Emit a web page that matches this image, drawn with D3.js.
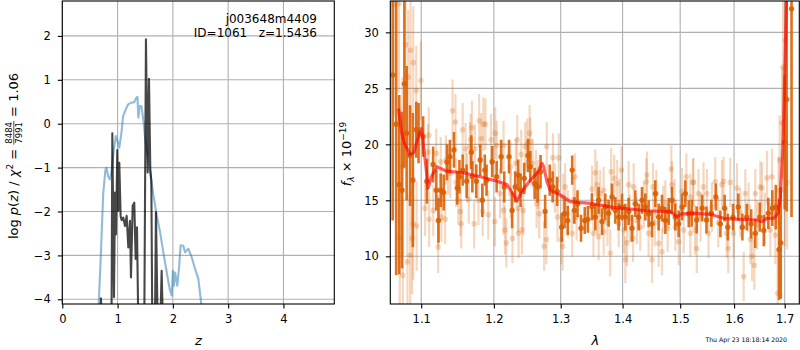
<!DOCTYPE html>
<html>
<head>
<meta charset="utf-8">
<script src="https://cdn.jsdelivr.net/npm/d3@7"></script>
<style>
  body { margin: 0; background: #fff; }
  text { font-family: "DejaVu Sans", sans-serif; }
</style>
</head>
<body>
<div id="canvas"></div>
<script>
"use strict";

/* Drawing size */
let svgWidth = 800;
let svgHeight = 350;

/* ---- Left panel data: log p(z) ---- */
// blue curve (z, log p)
let blueZ = [0.64, 0.66, 0.70, 0.74, 0.78, 0.80, 0.83, 0.86, 0.89, 0.93, 0.97, 1.00, 1.03, 1.07, 1.10,
  1.15, 1.19, 1.25, 1.30, 1.34, 1.36, 1.375, 1.40, 1.43, 1.47, 1.50, 1.55, 1.60, 1.65, 1.71, 1.77,
  1.83, 1.89, 1.94, 1.98, 2.00, 2.02, 2.04, 2.08, 2.11, 2.14, 2.19, 2.22, 2.28, 2.34, 2.40, 2.46, 2.51, 2.53];
let blueLogp = [-4.6, -4.07, -2.9, -1.6, -1.05, -1.0, -1.2, -1.27, -1.1, -0.6, -0.28, -0.4, -0.55, -0.2, 0.17,
  0.33, 0.44, 0.48, 0.49, 0.59, 0.61, 0.14, 0.4, 0.4, 0.05, -0.36, -0.75, -1.2, -1.65, -2.1, -2.48,
  -2.95, -3.39, -3.75, -3.92, -3.35, -3.69, -3.39, -3.69, -3.3, -2.77, -2.78, -2.93, -2.85, -3.04, -3.3, -3.53, -4.06, -4.5];

// dark curve (z, log p)
let darkZ = [0.68, 0.70, 0.71, 0.89, 0.905, 0.935, 0.953, 0.971, 0.995, 1.013, 1.031, 1.055, 1.074, 1.103,
  1.134, 1.164, 1.194, 1.224, 1.242, 1.273, 1.302, 1.327, 1.351, 1.375, 1.483, 1.513, 1.544, 1.568,
  1.592, 1.61, 1.628, 1.676, 1.694, 1.725, 1.772, 1.797, 1.821];
let darkLogp = [-4.6, -3.98, -4.6, -4.6, -0.22, -3.95, -1.57, -2.52, -0.6, -1.99, -0.89, -2.1, -2.2, -2.14,
  -2.33, -2.1, -2.82, -2.21, -3.5, -1.87, -1.8, -3.08, -2.36, -4.6, -4.6, 1.92, -1.11, 1.02,
  -1.04, -1.3, -4.6, -4.6, -2.02, -4.6, -4.6, -3.35, -4.6];

let zTicks = [0, 1, 2, 3, 4];
let logpTicks = [-4, -3, -2, -1, 0, 1, 2];

/* ---- Right panel data: spectrum ---- */
// [wavelength (micron), flux, error]
let darkPoints = [
  [1.063, 26.2, 13], [1.0675, 21.8, 13.5], [1.0714, 16.4, 8], [1.075, 15.9, 7], [1.078, 25.4, 7.5],
  [1.081, 21.0, 6], [1.0854, 19.0, 4.5], [1.089, 16.8, 6], [1.0935, 21.3, 2.5], [1.0965, 21.0, 2.7],
  [1.1025, 20.7, 1.8], [1.1075, 16.7, 2.0], [1.1158, 18.2, 1.6], [1.120, 15.9, 1.8], [1.123, 13.2, 2.0],
  [1.126, 15.9, 1.5], [1.130, 15.7, 1.6], [1.1345, 18.4, 1.6], [1.1385, 18.9, 1.5], [1.144, 19.5, 1.6],
  [1.1485, 16.1, 1.5], [1.1515, 17.1, 1.5], [1.156, 17.7, 1.4], [1.1615, 16.7, 1.5], [1.168, 19.3, 1.5],
  [1.1695, 17.1, 1.4], [1.175, 16.7, 1.5], [1.1805, 18.6, 1.4], [1.1835, 15.0, 1.5], [1.187, 17.7, 1.4],
  [1.1895, 16.8, 1.4], [1.1975, 18.45, 1.4], [1.204, 17.1, 1.4], [1.2105, 18.9, 1.5], [1.215, 16.2, 1.4],
  [1.222, 18.9, 1.5], [1.2265, 14.1, 1.6], [1.231, 16.2, 1.4], [1.2355, 17.25, 1.4], [1.239, 15.9, 1.5],
  [1.2445, 16.96, 1.4], [1.250, 19.0, 1.5], [1.2535, 18.0, 1.4], [1.260, 16.5, 1.4], [1.2645, 16.2, 1.4],
  [1.269, 17.55, 1.5], [1.276, 14.0, 1.5], [1.283, 16.8, 1.4], [1.2875, 16.2, 1.4], [1.2945, 15.8, 1.3],
  [1.3015, 12.6, 1.3], [1.306, 13.8, 1.3], [1.311, 13.2, 1.3], [1.318, 17.7, 1.3], [1.3215, 14.1, 1.2],
  [1.3265, 14.7, 1.2], [1.332, 12.5, 1.2], [1.338, 13.2, 1.2], [1.343, 13.3, 1.2],
  [1.3496, 14.43, 1.2], [1.3550, 13.5, 1.2], [1.3604, 15.0, 1.2], [1.3659, 13.1, 1.2], [1.3713, 14.4, 1.2],
  [1.3768, 13.84, 1.2], [1.3823, 15.3, 1.2], [1.3879, 14.1, 1.2], [1.3934, 13.5, 1.2], [1.3990, 14.4, 1.2],
  [1.4046, 13.5, 1.2], [1.4102, 14.0, 1.2], [1.4159, 12.5, 1.2], [1.4215, 14.7, 1.2], [1.4272, 13.5, 1.2],
  [1.4329, 15.0, 1.2], [1.4387, 14.4, 1.2], [1.4444, 13.8, 1.2], [1.4502, 12.9, 1.2], [1.4560, 15.6, 1.2],
  [1.4618, 13.5, 1.2], [1.4677, 14.3, 1.2], [1.4736, 13.2, 1.2], [1.4795, 14.0, 1.2], [1.4854, 15.0, 1.2],
  [1.4913, 13.5, 1.2], [1.4973, 12.9, 1.2], [1.5033, 14.4, 1.2], [1.5093, 15.6, 1.2], [1.5154, 13.8, 1.2],
  [1.521, 13.84, 1.2], [1.530, 13.24, 1.2], [1.540, 14.3, 1.2], [1.548, 13.24, 1.2], [1.557, 13.84, 1.2],
  [1.5655, 15.3, 1.2], [1.574, 12.9, 1.2], [1.582, 14.3, 1.2], [1.588, 12.6, 1.2], [1.598, 13.5, 1.2],
  [1.608, 14.4, 1.2], [1.616, 12.6, 1.2], [1.6245, 13.5, 1.2], [1.633, 12.9, 1.3], [1.641, 12.05, 1.3],
  [1.650, 13.5, 1.3], [1.658, 12.3, 1.4], [1.667, 13.84, 1.4], [1.675, 14.3, 1.6], [1.682, 14.4, 2.0],
  [1.6885, 10.6, 4.5], [1.692, 11.2, 5], [1.700, 20.2, 6], [1.704, 24.0, 10], [1.714, 32.1, 18.6]
];

// faded points from the other exposures
let lightPoints = [
  [1.065, 32.5, 10], [1.071, 32.6, 8], [1.0795, 28.9, 7], [1.086, 28.4, 6], [1.0895, 27.3, 5],
  [1.083, 26.0, 6], [1.0995, 25.7, 3.5], [1.0935, 24.8, 4], [1.0755, 18.0, 8], [1.0895, 12.9, 5],
  [1.094, 12.7, 4], [1.088, 11.6, 5], [1.082, 9.5, 6], [1.076, 8.3, 7], [1.0855, 10.1, 6], [1.072, 11.6, 8],
  [1.110, 20.8, 2.5], [1.109, 19.3, 2.5], [1.105, 14.3, 2.5], [1.1105, 13.3, 2.5], [1.116, 14.1, 2.3],
  [1.1225, 13.2, 2.3], [1.1225, 10.8, 2.3], [1.127, 13.5, 2.2], [1.132, 13.3, 2.2], [1.120, 19.2, 2.2],
  [1.126, 18.45, 2.2], [1.133, 18.6, 2.2], [1.142, 23.0, 2.8], [1.146, 22.0, 2.5], [1.136, 17.7, 2.2],
  [1.139, 17.4, 2.2], [1.147, 16.6, 2.2], [1.150, 15.0, 2.2], [1.153, 14.0, 2.2], [1.154, 12.9, 2.2],
  [1.156, 21.3, 2.4], [1.160, 19.6, 2.3], [1.162, 17.0, 2.2], [1.1645, 15.1, 2.2], [1.167, 20.4, 2.3],
  [1.169, 21.5, 2.4], [1.172, 12.9, 2.2], [1.173, 19.6, 2.2], [1.179, 22.1, 2.4], [1.182, 20.5, 2.3],
  [1.185, 21.8, 2.4], [1.184, 14.0, 2.2], [1.192, 13.7, 2.2], [1.178, 15.0, 2.2], [1.166, 19.8, 2.2],
  [1.188, 21.8, 2.3], [1.196, 20.4, 2.3], [1.202, 21.0, 2.3], [1.204, 19.9, 2.2], [1.2015, 13.1, 2.2],
  [1.209, 15.6, 2.2], [1.214, 19.9, 2.2], [1.214, 14.1, 2.2], [1.216, 12.35, 2.2], [1.218, 11.2, 2.2],
  [1.224, 18.0, 2.2], [1.2245, 15.6, 2.2], [1.227, 11.6, 2.2], [1.232, 18.3, 2.2], [1.234, 20.4, 2.2],
  [1.235, 14.3, 2.2], [1.236, 12.05, 2.2], [1.240, 19.1, 2.2], [1.241, 12.35, 2.2], [1.243, 14.1, 2.2],
  [1.246, 19.8, 2.2], [1.249, 20.1, 2.2], [1.2525, 21.0, 2.5], [1.2535, 20.2, 2.2], [1.257, 18.3, 2.2],
  [1.262, 17.3, 2.2], [1.265, 16.4, 2.2], [1.263, 14.7, 2.2], [1.267, 13.8, 2.2], [1.2745, 10.9, 2.2],
  [1.278, 11.5, 2.2], [1.2785, 19.8, 2.2], [1.288, 18.8, 2.2], [1.291, 16.1, 2.2], [1.297, 18.8, 2.2],
  [1.295, 13.5, 2.2], [1.301, 11.5, 2.2], [1.303, 10.9, 2.2], [1.304, 15.3, 2.1], [1.311, 13.8, 2.1],
  [1.318, 12.05, 2.1], [1.3225, 17.1, 2.1], [1.325, 13.5, 2.1], [1.307, 16.2, 2.1], [1.320, 15.0, 2.1],
  [1.355, 17.46, 2.1], [1.3496, 16.0, 2.1], [1.358, 16.4, 2.1], [1.363, 15.6, 2.1], [1.3686, 15.9, 2.1],
  [1.352, 12.05, 2.1], [1.3604, 11.75, 2.1], [1.3686, 12.2, 2.1], [1.3795, 10.3, 2.1], [1.381, 17.55, 2.1],
  [1.386, 16.96, 2.1], [1.391, 16.5, 2.1], [1.3934, 12.9, 2.1], [1.398, 17.7, 2.1], [1.402, 12.35, 2.1],
  [1.4046, 9.7, 2.1], [1.4074, 11.2, 2.1], [1.4102, 16.4, 2.1], [1.4187, 16.2, 2.1], [1.4176, 11.6, 2.1],
  [1.4244, 13.2, 2.1], [1.430, 12.6, 2.1], [1.4415, 17.25, 2.1], [1.4404, 16.66, 2.1], [1.4444, 12.05, 2.1],
  [1.4502, 9.7, 2.1], [1.452, 16.2, 2.1], [1.4578, 15.6, 2.1], [1.4618, 11.15, 2.1], [1.4677, 10.4, 2.1],
  [1.4736, 14.7, 2.1], [1.4777, 12.5, 2.1], [1.4842, 17.8, 2.1], [1.4854, 16.4, 2.1], [1.4913, 12.6, 2.1],
  [1.4973, 11.3, 2.1], [1.5033, 15.8, 2.1], [1.5111, 17.1, 2.1], [1.5184, 15.3, 2.1], [1.5232, 16.6, 2.1],
  [1.5184, 12.05, 2.1], [1.5063, 12.35, 2.1], [1.358, 14.0, 2.1], [1.375, 13.0, 2.1], [1.395, 14.8, 2.1],
  [1.412, 13.4, 2.1], [1.436, 14.6, 2.1], [1.455, 13.0, 2.1], [1.470, 14.2, 2.1], [1.490, 14.8, 2.1],
  [1.524, 16.6, 2.2], [1.5333, 15.6, 2.2], [1.5425, 16.2, 2.2], [1.527, 12.35, 2.2], [1.5302, 10.7, 2.2],
  [1.5488, 15.6, 2.2], [1.5518, 12.05, 2.2], [1.5643, 16.66, 2.2], [1.5769, 16.4, 2.2], [1.580, 16.7, 2.2],
  [1.5927, 16.6, 2.2], [1.586, 12.05, 2.2], [1.589, 10.7, 2.2], [1.599, 12.05, 2.2], [1.6057, 16.1, 2.2],
  [1.6185, 8.2, 2.2], [1.6217, 15.6, 2.2], [1.6316, 11.5, 2.2], [1.635, 10.0, 2.2], [1.6393, 9.2, 2.2],
  [1.6412, 15.6, 2.2], [1.6511, 16.2, 2.3], [1.6545, 16.1, 2.3], [1.6644, 17.0, 2.4], [1.6744, 17.1, 2.5],
  [1.671, 12.35, 2.4], [1.6811, 11.9, 2.6], [1.6857, 6.7, 4], [1.6877, 15.9, 3], [1.6946, 21.9, 5],
  [1.6966, 26.9, 6], [1.7013, 29.3, 7], [1.6898, 18.6, 4], [1.700, 15.9, 5], [1.7048, 16.6, 6],
  [1.537, 13.5, 2.2], [1.558, 14.4, 2.2], [1.570, 13.0, 2.2], [1.612, 13.9, 2.2], [1.628, 14.4, 2.2],
  [1.645, 12.8, 2.2], [1.660, 13.4, 2.3]
];

// best-fit model
let modelWave = [1.0706, 1.0747, 1.078, 1.0854, 1.0901, 1.095, 1.1, 1.1022, 1.1072, 1.109, 1.1135, 1.1207,
  1.1342, 1.157, 1.1806, 1.2045, 1.219, 1.2277, 1.2336, 1.241, 1.2535, 1.2636, 1.2712, 1.2737, 1.2788,
  1.2838, 1.2994, 1.3151, 1.3469, 1.3846, 1.4412, 1.4825, 1.4945, 1.503, 1.5303, 1.555, 1.58, 1.612,
  1.644, 1.654, 1.664, 1.678, 1.6865, 1.691, 1.696, 1.699, 1.702, 1.705];
let modelFlux = [23.2, 21.0, 20.1, 19.1, 19.25, 20.4, 21.4, 20.4, 17.4, 16.07, 17.1, 18.0,
  17.6, 17.46, 17.1, 16.7, 16.4, 15.6, 14.94, 15.77, 16.8, 17.4, 18.3, 18.0, 16.66,
  15.9, 15.47, 14.88, 14.73, 14.37, 14.07, 13.98, 13.54, 13.78, 13.84, 13.75, 13.39, 13.3,
  13.24, 13.09, 13.39, 13.4, 13.84, 15.3, 19.5, 24.0, 29.9, 36];

let waveTicks = [1.1, 1.2, 1.3, 1.4, 1.5, 1.6, 1.7];
let fluxTicks = [10, 15, 20, 25, 30];

/* Colours */
let orange = "#d95f02";
let gridColor = "#b0b0b0";

function fmtMinus(d) {
  return d < 0 ? "\u2212" + Math.abs(d) : String(d);
}

/* Canvas */
let svg = d3.select("#canvas")
  .append("svg")
  .attr("width", svgWidth)
  .attr("height", svgHeight);

svg.append("rect")
  .attr("width", svgWidth)
  .attr("height", svgHeight)
  .attr("fill", "white");

let defs = svg.append("defs");

/* Panel boxes */
let plotTop = 1;
let plotBottom = 304;
let leftPanel = { x0: 62.3, x1: 334.3 };
let rightPanel = { x0: 390.3, x1: 799.3 };

defs.append("clipPath").attr("id", "clipL")
  .append("rect")
  .attr("x", leftPanel.x0).attr("y", plotTop)
  .attr("width", leftPanel.x1 - leftPanel.x0).attr("height", plotBottom - plotTop);
defs.append("clipPath").attr("id", "clipR")
  .append("rect")
  .attr("x", rightPanel.x0).attr("y", plotTop)
  .attr("width", rightPanel.x1 - rightPanel.x0).attr("height", plotBottom - plotTop);

/* Scales */
let xL = d3.scaleLinear().domain([0, 4.92]).range([leftPanel.x0, leftPanel.x1]);
let yL = d3.scaleLinear().domain([-4.107, 2.795]).range([plotBottom, plotTop]);
let xR = d3.scaleLog().domain([1.06, 1.73]).range([rightPanel.x0, rightPanel.x1]);
let yR = d3.scaleLinear().domain([5.74, 32.8]).range([plotBottom, plotTop]);

let tickFont = "11.5px";

/* Grid helper */
function drawGrid(xScale, yScale, xTicks, yTicks, x0, x1) {
  let g = svg.append("g");
  g.selectAll(".vg").data(xTicks).enter().append("line")
    .attr("x1", d => xScale(d)).attr("x2", d => xScale(d))
    .attr("y1", plotTop).attr("y2", plotBottom)
    .attr("stroke", gridColor).attr("stroke-width", 1.1);
  g.selectAll(".hg").data(yTicks).enter().append("line")
    .attr("x1", x0).attr("x2", x1)
    .attr("y1", d => yScale(d)).attr("y2", d => yScale(d))
    .attr("stroke", gridColor).attr("stroke-width", 1.1);
}

/* Axis helper */
function drawAxes(xScale, yScale, xTicks, yTicks, x0, x1, xFmt, yFmt) {
  let ax = svg.append("g")
    .attr("transform", "translate(0," + plotBottom + ")")
    .call(d3.axisBottom(xScale).tickValues(xTicks).tickFormat(xFmt).tickSize(4.5).tickPadding(6));
  let ay = svg.append("g")
    .attr("transform", "translate(" + x0 + ",0)")
    .call(d3.axisLeft(yScale).tickValues(yTicks).tickFormat(yFmt).tickSize(4.5).tickPadding(7));
  [ax, ay].forEach(function (a) {
    a.select(".domain").remove();
    a.selectAll("line").attr("stroke", "black").attr("stroke-width", 1.1);
    a.selectAll("text")
      .attr("fill", "black")
      .style("font-family", "DejaVu Sans")
      .style("font-size", tickFont);
  });
  svg.append("rect")
    .attr("x", x0).attr("y", plotTop)
    .attr("width", x1 - x0).attr("height", plotBottom - plotTop)
    .attr("fill", "none").attr("stroke", "black").attr("stroke-width", 1.1);
}

/* ================= Left panel ================= */
drawGrid(xL, yL, zTicks, logpTicks, leftPanel.x0, leftPanel.x1);

let lineL = d3.line().x(d => xL(d[0])).y(d => yL(d[1]));
let gL = svg.append("g").attr("clip-path", "url(#clipL)");

gL.append("path")
  .datum(d3.zip(blueZ, blueLogp))
  .attr("d", lineL)
  .attr("fill", "none")
  .attr("stroke", "#1f77b4")
  .attr("stroke-opacity", 0.5)
  .attr("stroke-width", 2.1)
  .attr("stroke-linejoin", "round");

gL.append("path")
  .datum(d3.zip(darkZ, darkLogp))
  .attr("d", lineL)
  .attr("fill", "none")
  .attr("stroke", "black")
  .attr("stroke-opacity", 0.72)
  .attr("stroke-width", 2.1)
  .attr("stroke-linejoin", "round");

drawAxes(xL, yL, zTicks, logpTicks, leftPanel.x0, leftPanel.x1, d => String(d), fmtMinus);

svg.append("text")
  .attr("x", 317).attr("y", 23)
  .attr("text-anchor", "end")
  .style("font-size", "12px")
  .text("j003648m4409");
svg.append("text")
  .attr("x", 317).attr("y", 37)
  .attr("text-anchor", "end")
  .style("font-size", "12px")
  .style("white-space", "pre")
  .text("ID=1061   z=1.5436");

/* x label */
svg.append("text")
  .attr("x", xL(2.46)).attr("y", 345)
  .attr("text-anchor", "middle")
  .style("font-size", "13px")
  .style("font-style", "italic")
  .text("z");

/* y label with fraction */
let labelSize = 13;
let ylab = svg.append("g");
let t1 = ylab.append("text").style("font-size", labelSize + "px").attr("x", 0).attr("y", 0);
t1.append("tspan").text("log ");
t1.append("tspan").style("font-style", "italic").text("p");
t1.append("tspan").text("(");
t1.append("tspan").style("font-style", "italic").text("z");
t1.append("tspan").text(") / ");
t1.append("tspan").style("font-style", "italic").text("\u03c7");
t1.append("tspan").attr("dy", -5).style("font-size", "9px").text("2");
t1.append("tspan").attr("dy", 5).style("white-space", "pre").text(" = ");
let w1 = t1.node().getComputedTextLength();

let fracSize = 8.5;
let num = ylab.append("text").style("font-size", fracSize + "px").attr("y", -6).text("8484");
let den = ylab.append("text").style("font-size", fracSize + "px").attr("y", 4).text("7991");
let fw = Math.max(num.node().getComputedTextLength(), den.node().getComputedTextLength()) + 2;
num.attr("x", w1 + fw / 2).attr("text-anchor", "middle");
den.attr("x", w1 + fw / 2).attr("text-anchor", "middle");
ylab.append("line")
  .attr("x1", w1).attr("x2", w1 + fw)
  .attr("y1", -4.2).attr("y2", -4.2)
  .attr("stroke", "black").attr("stroke-width", 0.7);

let t3 = ylab.append("text").style("font-size", labelSize + "px")
  .attr("x", w1 + fw).attr("y", 0)
  .style("white-space", "pre")
  .text(" = 1.06");
let totalLen = w1 + fw + t3.node().getComputedTextLength();
ylab.attr("transform", "translate(18," + (156 + totalLen / 2) + ") rotate(-90)");

/* ================= Right panel ================= */
drawGrid(xR, yR, waveTicks, fluxTicks, rightPanel.x0, rightPanel.x1);

let gR = svg.append("g").attr("clip-path", "url(#clipR)");

// faded points
gR.selectAll(".lbar").data(lightPoints).enter().append("line")
  .attr("x1", d => xR(d[0])).attr("x2", d => xR(d[0]))
  .attr("y1", d => yR(d[1] - d[2])).attr("y2", d => yR(d[1] + d[2]))
  .attr("stroke", orange).attr("stroke-opacity", 0.25).attr("stroke-width", 2.2);
gR.selectAll(".ldot").data(lightPoints).enter().append("circle")
  .attr("cx", d => xR(d[0])).attr("cy", d => yR(d[1]))
  .attr("r", 2.8)
  .attr("fill", orange).attr("fill-opacity", 0.25);

// main points
gR.selectAll(".dbar").data(darkPoints).enter().append("line")
  .attr("x1", d => xR(d[0])).attr("x2", d => xR(d[0]))
  .attr("y1", d => yR(d[1] - d[2])).attr("y2", d => yR(d[1] + d[2]))
  .attr("stroke", orange).attr("stroke-opacity", 0.88).attr("stroke-width", 2.6);
gR.selectAll(".ddot").data(darkPoints).enter().append("circle")
  .attr("cx", d => xR(d[0])).attr("cy", d => yR(d[1]))
  .attr("r", 2.7)
  .attr("fill", orange).attr("fill-opacity", 0.88);

// model
gR.append("path")
  .datum(d3.zip(modelWave, modelFlux))
  .attr("d", d3.line().x(d => xR(d[0])).y(d => yR(d[1])))
  .attr("fill", "none")
  .attr("stroke", "red")
  .attr("stroke-opacity", 0.62)
  .attr("stroke-width", 3.2)
  .attr("stroke-linejoin", "round");

drawAxes(xR, yR, waveTicks, fluxTicks, rightPanel.x0, rightPanel.x1, d3.format(".1f"), d => String(d));

svg.append("text")
  .attr("x", xR(1.355)).attr("y", 345)
  .attr("text-anchor", "middle")
  .style("font-size", "13px")
  .style("font-style", "italic")
  .text("\u03bb");

let flab = svg.append("text")
  .attr("transform", "translate(351,154) rotate(-90)")
  .attr("text-anchor", "middle")
  .style("font-size", labelSize + "px");
flab.append("tspan").style("font-style", "italic").text("f");
flab.append("tspan").attr("dy", 3).style("font-size", "9px").style("font-style", "italic").text("\u03bb");
flab.append("tspan").attr("dy", -3).style("white-space", "pre").text(" \u00d7 10");
flab.append("tspan").attr("dy", -5).style("font-size", "9px").text("\u221219");

/* timestamp */
svg.append("text")
  .attr("x", 787).attr("y", 341.5)
  .attr("text-anchor", "end")
  .style("font-size", "6.2px")
  .text("Thu Apr 23 18:18:14 2020");
</script>
</body>
</html>
